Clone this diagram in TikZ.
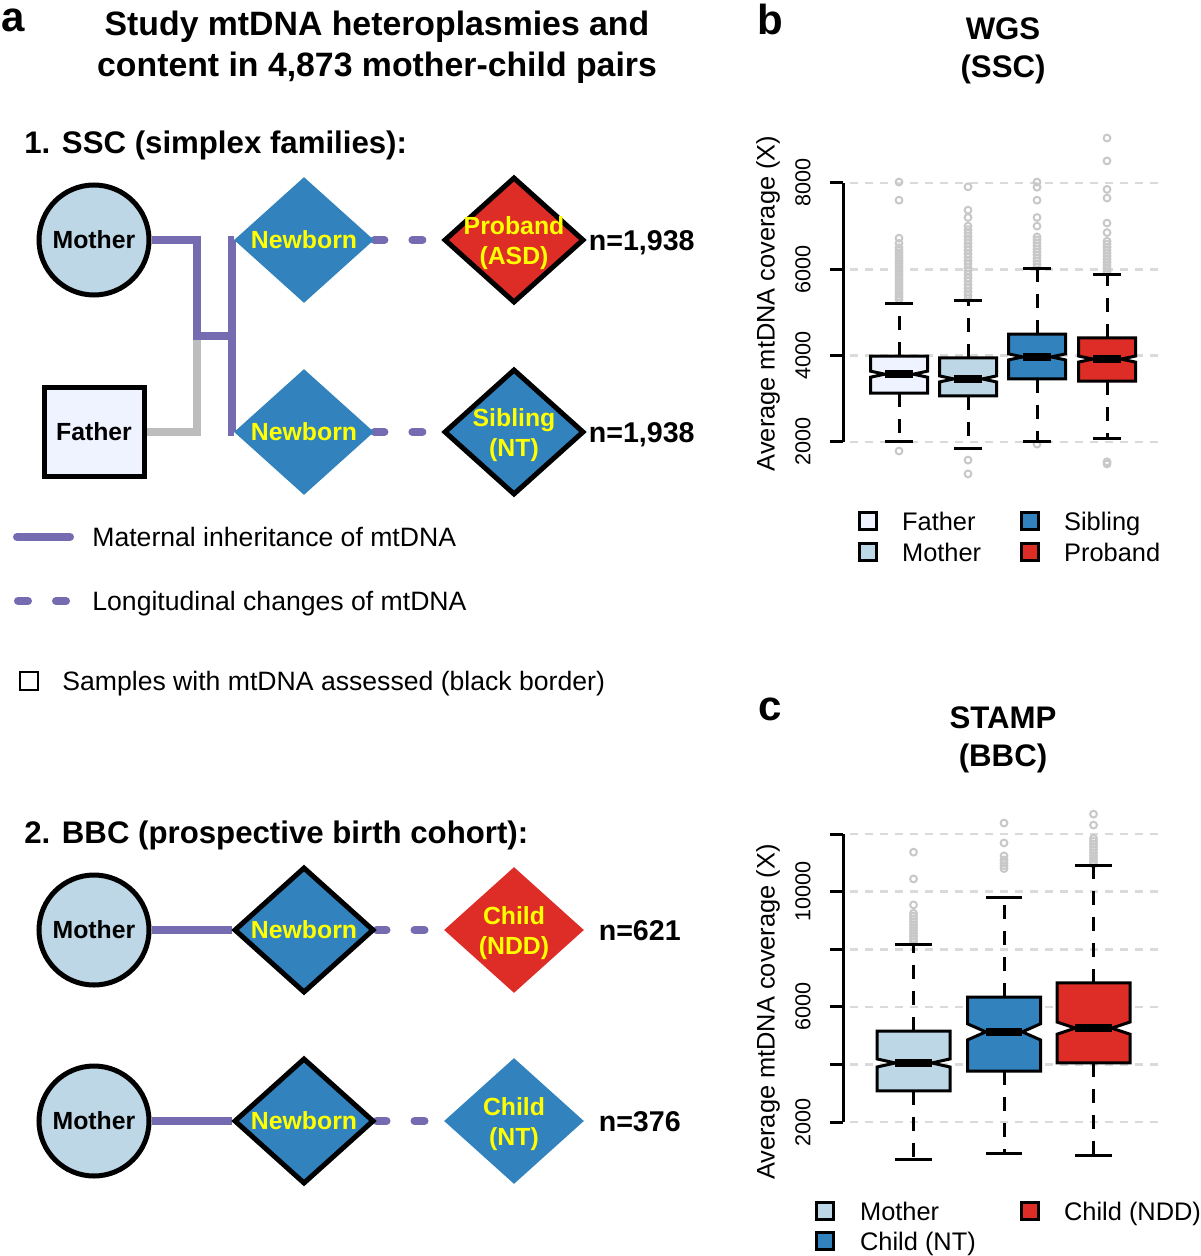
\documentclass[tikz,border=0pt]{standalone}
\usepackage{fontspec}
\setmainfont{Liberation Sans}
\usetikzlibrary{shapes.geometric}
\usetikzlibrary{positioning}
\usetikzlibrary{backgrounds}

\definecolor{mothfill}{HTML}{BDD7E7}
\definecolor{fathfill}{HTML}{EFF3FF}
\definecolor{ntblue}{HTML}{3182BD}
\definecolor{nddred}{HTML}{DE2D26}
\definecolor{purp}{HTML}{756BB1}
\definecolor{lgray}{HTML}{BDBDBD}
\definecolor{gridgray}{HTML}{DADADA}
\definecolor{outgray}{HTML}{C8C8C8}
\definecolor{yel}{HTML}{FFFF00}

\newcommand{\setfs}[2]{\fontsize{#1}{#2}\selectfont}

% notched box: x, half width, q1, median, q3, low whisker, high whisker, notch, fill
\newcommand{\notchbox}[9]{%
    \draw[whisk] (#1,#5) -- (#1,#7);
    \draw[whisk] (#1,#3) -- (#1,#6);
    \draw[wcap] ({#1-#2/2},#7) -- ({#1+#2/2},#7);
    \draw[wcap] ({#1-#2/2},#6) -- ({#1+#2/2},#6);
    \draw[boxline, fill=#9] ({#1-#2},#5) -- ({#1+#2},#5) -- ({#1+#2},{#4+#8}) -- ({#1+#2/2},#4)
        -- ({#1+#2},{#4-#8}) -- ({#1+#2},#3) -- ({#1-#2},#3) -- ({#1-#2},{#4-#8})
        -- ({#1-#2/2},#4) -- ({#1-#2},{#4+#8}) -- cycle;
    \draw[medbar] ({#1-#2/2},#4) -- ({#1+#2/2},#4);
}

\tikzset{
    node distance=105pt, % Distance between the pedigree columns
    mom/.style={ % Mothers
        circle, fill=mothfill,
        minimum size=55pt, inner sep=0pt,
        font=\setfs{12.4}{15}\bfseries
    },
    dad/.style={ % Fathers
        rectangle, fill=fathfill,
        minimum width=50pt, minimum height=44.5pt, inner sep=0pt,
        font=\setfs{12.4}{15}\bfseries
    },
    kid/.style={ % Newborns and children, text is put on as a label
        diamond, minimum width=70pt, minimum height=63pt, inner sep=0pt
    },
    kidtxt/.style={text=yel, font=\setfs{12.4}{15}\bfseries, align=center, inner sep=0pt},
    kidtwo/.style={kidtxt, yshift=-1.7pt}, % two lines
    assessed/.style={draw, line width=2.5pt}, % black border
    count/.style={font=\setfs{14.3}{17}\bfseries, inner sep=0pt, text height=10.2pt, text depth=0pt},
    inherit/.style={draw=purp, line width=4pt},
    change/.style={draw=purp, line width=4pt, line cap=round, dash pattern=on 5pt off 14pt},
    gene/.style={draw=lgray, line width=4pt},
    panel/.style={font=\setfs{21}{21}\bfseries, inner sep=0pt},
    head/.style={font=\setfs{16.9}{20.5}\bfseries, align=center},
    sub/.style={font=\setfs{15.6}{18}\bfseries, inner sep=0pt, text height=11.2pt, text depth=0pt},
    ptitle/.style={font=\setfs{15.6}{19.2}\bfseries, align=center},
    legtxt/.style={font=\setfs{13.3}{16}, inner sep=0pt, text height=9.5pt, text depth=0pt},
    % boxplots
    axtitle/.style={font=\setfs{12.7}{15}, rotate=90},
    tick/.style={font=\setfs{10.8}{13}, rotate=90},
    axis/.style={line width=1.5pt},
    grid/.style={draw=gridgray, line width=1.3pt, dash pattern=on 4pt off 3.5pt},
    whisk/.style={line width=1.5pt, dash pattern=on 7pt off 6pt},
    wcap/.style={line width=1.5pt},
    boxline/.style={line width=1.5pt, line join=miter},
    medbar/.style={line width=4pt},
    outl/.style={draw=outgray, line width=1pt},
    legbox/.style={rectangle, draw, line width=1.2pt, minimum size=8.5pt, inner sep=0pt},
    legtxt2/.style={font=\setfs{12.7}{15}, inner sep=0pt, text height=9.1pt, text depth=0pt}
}

\begin{document}
\begin{tikzpicture}[x=0.5pt, y=-0.5pt] % one unit is one pixel, y runs down
\useasboundingbox (0,0) rectangle (1200,1256);

% ---- a ----
\node[panel] (pa) at (13,20) {a};
\node[head] (ttl) at (377,47.5) {Study mtDNA heteroplasmies and\\content in 4,873 mother-child pairs};
\node[sub, anchor=west] (ssc) at (24,142) {1. SSC (simplex families):};

\node[mom, assessed] (mom1) at (94,240) {Mother};
\node[dad, assessed, node distance=96pt, below of=mom1] (dad1) {Father};
\node[kid, fill=ntblue, right of=mom1, label={[kidtxt]center:Newborn}] (nb1) {};
\node[kid, fill=ntblue, node distance=96pt, below of=nb1, label={[kidtxt]center:Newborn}] (nb2) {};
\node[kid, assessed, fill=nddred, right of=nb1, label={[kidtwo]center:{Proband\\(ASD)}}] (pro) {};
\node[kid, assessed, fill=ntblue, right of=nb2, label={[kidtwo]center:{Sibling\\(NT)}}] (sib) {};
\node[count, right=1pt of pro] (n1) {n=1,938};
\node[count, right=1pt of sib] (n2) {n=1,938};

\coordinate (mid) at (197,336);
\coordinate (fork) at (232,336);
\begin{scope}[on background layer]
    \draw[gene] (dad1.east) -| (mid);
    \draw[inherit] (mom1.east) -| (mid) -- (fork);
    \draw[inherit] (nb1.west) -| (fork) |- (nb2.west);
    \draw[change] (nb1.east) -- (pro.west);
    \draw[change] (nb2.east) -- (sib.west);
\end{scope}

% legend
\draw[inherit, line cap=round] (17,537) -- (70,537);
\node[legtxt, anchor=west] (lmat) at (92,537) {Maternal inheritance of mtDNA};
\draw[change] (18,601) -- (70,601);
\node[legtxt, anchor=west] (llong) at (92,601) {Longitudinal changes of mtDNA};
\draw[line width=1.3pt] (20,672) rectangle (38,690);
\node[legtxt, anchor=west] (lsam) at (62,681) {Samples with mtDNA assessed (black border)};

\node[sub, anchor=west] (bbc) at (24,832) {2. BBC (prospective birth cohort):};
\node[mom, assessed] (mom3) at (94,930) {Mother};
\node[kid, assessed, fill=ntblue, right of=mom3, label={[kidtxt]center:Newborn}] (nb3) {};
\node[kid, fill=nddred, right of=nb3, label={[kidtwo]center:{Child\\(NDD)}}] (ndd) {};
\node[count, right=7pt of ndd] (n3) {n=621};
\node[mom, assessed, node distance=95.5pt, below of=mom3] (mom4) {Mother};
\node[kid, assessed, fill=ntblue, right of=mom4, label={[kidtxt]center:Newborn}] (nb4) {};
\node[kid, fill=ntblue, right of=nb4, label={[kidtwo]center:{Child\\(NT)}}] (nt) {};
\node[count, right=7pt of nt] (n4) {n=376};

\begin{scope}[on background layer]
    \draw[inherit] (mom3) -- (nb3);
    \draw[change] (nb3.east) -- (ndd.west);
    \draw[inherit] (mom4) -- (nb4);
    \draw[change] (nb4.east) -- (nt.west);
\end{scope}

% ---- b ----
\node[panel] (pb) at (770,19) {b};
\node[ptitle] (wgs) at (1003,51) {WGS\\(SSC)};
\node[axtitle] (yb) at (768,303.5) {Average mtDNA coverage (X)};
\begin{scope}[shift={(0,528.3)}, y=21.585pt] % y in thousands
    \foreach \t in {2,4,6,8} {
        \draw[grid] (850,\t) -- (1165,\t);
        \draw[axis] (830,\t) -- (843,\t);
        \node[tick] (kb\t) at (803,\t) {\t000};
    }
    \draw[axis] (843,2) -- (843,8);
    \foreach \v in {1.79,5.3,5.36,...,6.5,6.6,6.72,7.6,8.02}
        \draw[outl] (899,\v) circle[radius=1.7pt];
    \foreach \v in {1.26,1.58,5.32,5.4,...,7.0,7.2,7.37,7.91}
        \draw[outl] (968,\v) circle[radius=1.7pt];
    \foreach \v in {1.95,6.05,6.12,...,6.8,7.0,7.2,7.6,7.9,8.02}
        \draw[outl] (1037,\v) circle[radius=1.7pt];
    \foreach \v in {1.49,1.54,5.95,6.02,...,6.7,6.85,7.07,7.65,7.85,8.51,9.04}
        \draw[outl] (1107,\v) circle[radius=1.7pt];
    \notchbox{899}{28.5}{3.13}{3.57}{3.99}{2.02}{5.20}{0.07}{fathfill}
    \notchbox{968}{28.5}{3.07}{3.46}{3.95}{1.84}{5.27}{0.07}{mothfill}
    \notchbox{1037}{28.5}{3.46}{3.97}{4.50}{2.00}{6.01}{0.07}{ntblue}
    \notchbox{1107}{28.5}{3.41}{3.92}{4.41}{2.09}{5.89}{0.07}{nddred}
\end{scope}
\node[legbox, fill=fathfill] (kf) at (868,521) {};
\node[legtxt2, right=12pt of kf] (kft) {Father};
\node[legbox, fill=mothfill] (km) at (868,552) {};
\node[legtxt2, right=12pt of km] (kmt) {Mother};
\node[legbox, fill=ntblue] (ks) at (1030,521) {};
\node[legtxt2, right=12pt of ks] (kst) {Sibling};
\node[legbox, fill=nddred] (kp) at (1030,552) {};
\node[legtxt2, right=12pt of kp] (kpt) {Proband};

% ---- c ----
\node[panel] (pc) at (770,709) {c};
\node[ptitle] (stamp) at (1003,740) {STAMP\\(BBC)};
\node[axtitle] (yc) at (768,1012) {Average mtDNA coverage (X)};
\begin{scope}[shift={(0,1179.6)}, y=14.4pt] % y in thousands
    \foreach \t in {2,4,...,12} {
        \draw[grid] (850,\t) -- (1165,\t);
        \draw[axis] (830,\t) -- (843,\t);
    }
    \foreach \t in {2,6,10}
        \node[tick] (kc\t) at (803,\t) {\t000};
    \draw[axis] (843,2) -- (843,12);
    \foreach \v in {8.25,8.35,...,9.3,9.54,10.44,11.37}
        \draw[outl] (913.5,\v) circle[radius=1.7pt];
    \foreach \v in {10.8,10.9,11.0,11.1,11.24,11.69,12.38}
        \draw[outl] (1004,\v) circle[radius=1.7pt];
    \foreach \v in {10.95,11.05,...,11.9,12.31,12.69}
        \draw[outl] (1093.5,\v) circle[radius=1.7pt];
    \notchbox{913.5}{36.5}{3.08}{4.05}{5.16}{0.71}{8.18}{0.14}{mothfill}
    \notchbox{1004}{36.5}{3.77}{5.13}{6.34}{0.89}{9.78}{0.28}{ntblue}
    \notchbox{1093.5}{36.5}{4.05}{5.26}{6.83}{0.85}{10.89}{0.21}{nddred}
\end{scope}
\node[legbox, fill=mothfill] (lm) at (825,1211) {};
\node[legtxt2, right=12.5pt of lm] (lmt) {Mother};
\node[legbox, fill=ntblue] (ln) at (825,1241) {};
\node[legtxt2, right=12.5pt of ln] (lnt) {Child (NT)};
\node[legbox, fill=nddred] (ld) at (1030,1211) {};
\node[legtxt2, right=12pt of ld] (ldt) {Child (NDD)};
\end{tikzpicture}
\end{document}
